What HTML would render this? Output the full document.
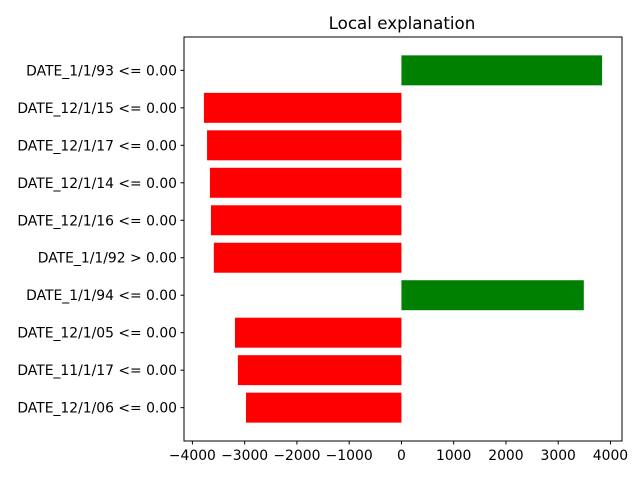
<!DOCTYPE html>
<html><head><meta charset="utf-8"><style>
body{margin:0;background:#fff;}
svg{font-family:"DejaVu Sans","Liberation Sans",sans-serif;}
</style></head><body>
<svg id="chart" width="640" height="480" xmlns="http://www.w3.org/2000/svg">
<text x="402" y="29" font-size="16.7" text-anchor="middle">Local explanation</text>
<g id="bars"></g>
<g id="yticks"></g>
<g id="xticks"></g>
<rect x="184" y="37" width="438" height="404" fill="none" stroke="#000" stroke-width="1"/>
</svg>
<script>
const labels = ["DATE_1/1/93 <= 0.00","DATE_12/1/15 <= 0.00","DATE_12/1/17 <= 0.00","DATE_12/1/14 <= 0.00","DATE_12/1/16 <= 0.00","DATE_1/1/92 > 0.00","DATE_1/1/94 <= 0.00","DATE_12/1/05 <= 0.00","DATE_11/1/17 <= 0.00","DATE_12/1/06 <= 0.00"];
const values = [3840,-3780,-3720,-3665,-3645,-3590,3490,-3185,-3130,-2975];
const xTicks = [-4000,-3000,-2000,-1000,0,1000,2000,3000,4000];
const NS="http://www.w3.org/2000/svg";
const L=184,R=622,T=37,B=441;
const vmin=Math.min(0,...values), vmax=Math.max(0,...values), pad=(vmax-vmin)*0.05;
const x0=vmin-pad, x1=vmax+pad;
const xs=v=>L+(v-x0)/(x1-x0)*(R-L);
const n=values.length, y0=-0.4-0.05*(n-0.2), y1=n-1+0.4+0.05*(n-0.2);
const ys=v=>B-(v-y0)/(y1-y0)*(B-T);
const gb=document.getElementById('bars'), gy=document.getElementById('yticks'), gx=document.getElementById('xticks');
function mk(t,a){const e=document.createElementNS(NS,t);for(const k in a)e.setAttribute(k,a[k]);return e;}
values.forEach((v,i)=>{
  const pos=n-1-i;
  const yt=ys(pos+0.4), yb=ys(pos-0.4);
  const r=mk('rect',{x:Math.min(xs(0),xs(v)),y:yt,width:Math.abs(xs(v)-xs(0)),height:yb-yt,fill:v>0?'green':'red'});
  
  
  gb.appendChild(r);
  const yc=ys(pos);
  const tk=mk('line',{x1:L-3.5,x2:L,y1:yc,y2:yc,stroke:'#000'});
  
  
  gy.appendChild(tk);
  const tx=mk('text',{x:L-7,y:yc+5,'font-size':'13.9','text-anchor':'end'});
  tx.textContent=labels[i];
  
  
  gy.appendChild(tx);
});
xTicks.forEach(v=>{
  const x=xs(v);
  const tk=mk('line',{x1:x,x2:x,y1:B,y2:B+3.5,stroke:'#000'});
  
  
  gx.appendChild(tk);
  const tx=mk('text',{x:x,y:B+19,'font-size':'13.9','text-anchor':'middle'});
  tx.textContent=v<0?'\u2212'+Math.abs(v):String(v);
  
  
  gx.appendChild(tx);
});
</script>
</body></html>
